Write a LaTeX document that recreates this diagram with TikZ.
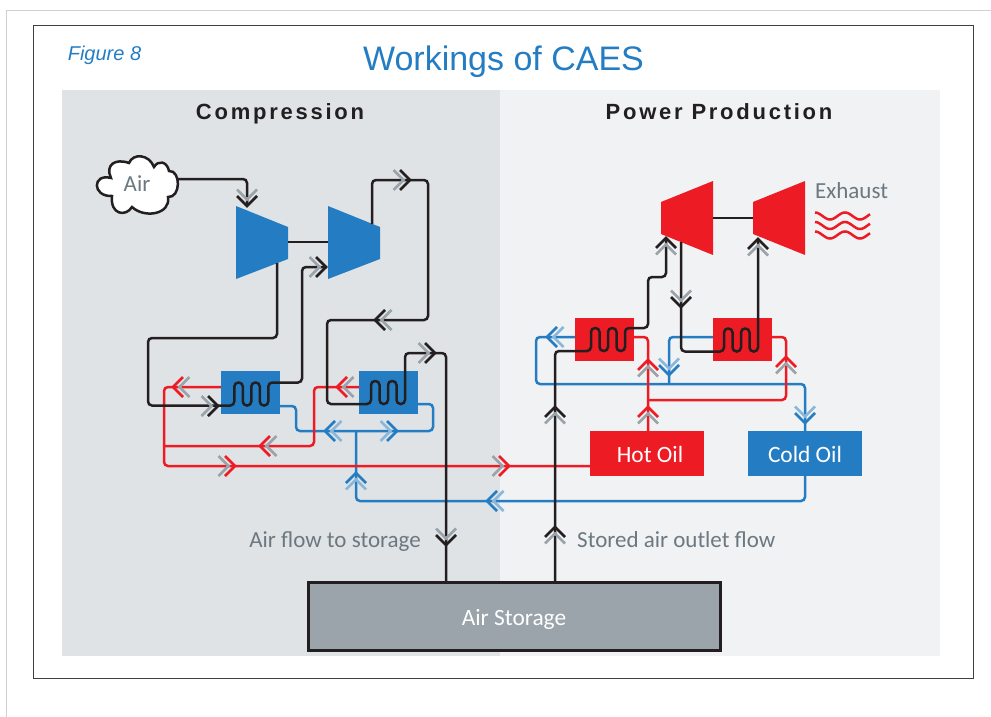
\documentclass[tikz,border=0pt]{standalone}
\usepackage{fontspec}
\usepackage{xcolor}
\usepackage{tikz}
\usetikzlibrary{calc}
\setmainfont{Liberation Sans}
\newfontfamily\labelfont{Carlito}
\newfontfamily\headfont[LetterSpace=12.5]{Liberation Sans}
\definecolor{caesblue}{RGB}{36, 125, 195}
\definecolor{caesred}{RGB}{237, 28, 36}
\definecolor{caesdark}{RGB}{35, 31, 32}
\definecolor{caesgrey}{RGB}{154, 164, 170}
\definecolor{caesslate}{RGB}{108, 120, 128}
\definecolor{paleblue}{RGB}{138, 183, 220}
\definecolor{panelleft}{RGB}{224, 227, 230}
\definecolor{panelright}{RGB}{241, 242, 244}
\tikzset{
  pipe/.style={line width=2.5pt,rounded corners=4pt},
  bluepipe/.style={pipe,draw=caesblue},
  redpipe/.style={pipe,draw=caesred},
  darkpipe/.style={pipe,draw=caesdark},
  hxbox/.style={minimum width=59pt,minimum height=43pt,inner sep=0pt},
  oilbox/.style={minimum width=114pt,minimum height=45pt,inner sep=0pt,text=white,
                 text height=18pt,text depth=0pt,
                 font=\labelfont\fontsize{23.4}{27}\selectfont},
  flowlabel/.style={text=caesslate,inner sep=0pt,font=\labelfont\fontsize{23}{27}\selectfont},
  panelhead/.style={text=caesdark,inner sep=0pt,anchor=base,font=\headfont\bfseries\fontsize{22}{26}\selectfont},
}
\newcommand{\coilrun}{-- ++(0,-23) -- ++(8.5,0) -- ++(0,23) -- ++(8.5,0) -- ++(0,-23) -- ++(8.5,0) -- ++(0,23) -- ++(8.5,0) -- ++(0,-23)}
\newcommand{\flowmark}[4]{%
  \begin{scope}[shift={(#1)},rotate=#2,line width=2.5pt]
    \draw[#4] (-16.5,-10) -- (-6.5,0) -- (-16.5,10);
    \draw[#3] (-10,-10) -- (0,0) -- (-10,10);
  \end{scope}}

\begin{document}
\begin{tikzpicture}[x=1pt,y=-1pt]
  \useasboundingbox (0,0) rectangle (991,717);
  \coordinate (pageA) at (991,11);
  \coordinate (pageB) at (6,11);
  \coordinate (pageC) at (6,717);
  \draw[black!18,line width=1pt] (pageA)--(pageB)--(pageC);
  \node[draw=black!75,line width=1pt,minimum width=940pt,minimum height=652pt,inner sep=0pt] (frame) at (503,352) {};
  \node[fill=panelleft,minimum width=438pt,minimum height=566pt,inner sep=0pt] (comp) at (281,373) {};
  \node[fill=panelright,minimum width=440pt,minimum height=566pt,inner sep=0pt] (power) at (720,373) {};

  \node[text=caesblue,inner sep=0pt,font=\itshape\fontsize{20}{24}\selectfont] (fig) at (104.5,55.5) {Figure 8};
  \node[text=caesblue,inner sep=0pt,font=\fontsize{34}{40}\selectfont] (title) at (503.5,62) {Workings of CAES};
  \node[panelhead] (comphead) at (280,119.5) {Compression};
  \node[panelhead] (powerhead) at (719,119.5) {Power Production};

  % machines
  \coordinate (cmpAshaft) at (288,242);
  \coordinate (cmpBshaft) at (328,242);
  \coordinate (cmpAout) at (277,263);
  \coordinate (cmpBin) at (327,267);
  \coordinate (cmpBout) at (372,224);
  \coordinate (trbAshaft) at (713,218);
  \coordinate (trbBshaft) at (753,218);
  \coordinate (trbAin) at (666,238);
  \coordinate (trbAout) at (681,242);
  \coordinate (trbBin) at (758,240);
  \fill[caesblue] (236,206)--(288,227)--(288,259)--(236,279)--cycle;
  \fill[caesblue] (328,206)--(380,227)--(380,259)--(328,279)--cycle;
  \fill[caesred] (661,202)--(713,181)--(713,255)--(661,234)--cycle;
  \fill[caesred] (753,202)--(805,181)--(805,255)--(753,234)--cycle;
  \draw[darkpipe] (cmpAshaft)--(cmpBshaft);
  \draw[darkpipe] (trbAshaft)--(trbBshaft);

  \node[hxbox,fill=caesblue] (hxa) at (250.5,392.5) {};
  \node[hxbox,fill=caesblue] (hxb) at (388.5,392.5) {};
  \node[hxbox,fill=caesred] (hxc) at (604.5,339.5) {};
  \node[hxbox,fill=caesred] (hxd) at (742.5,339.5) {};
  \node[oilbox,fill=caesred] (hot) at (647,453.5) {\hspace*{6pt}Hot Oil};
  \node[oilbox,fill=caesblue] (cold) at (805,453.5) {Cold Oil};
  \node[draw=caesdark,line width=3pt,fill=caesgrey,minimum width=412pt,minimum height=68pt,
        inner sep=0pt,text=white,text height=16.6pt,text depth=0pt,
        font=\labelfont\fontsize{23.4}{27}\selectfont] (store) at (514,616.7) {Air Storage};

  % air cloud
  \coordinate (airout) at (177,179);
  \draw[draw=caesdark,line width=2.5pt,fill=white]
    (111,178) .. controls (92,173) and (92,197) .. (112,196)
    .. controls (110,215) and (126,217) .. (132,207)
    .. controls (145,219) and (171,214) .. (168,197)
    .. controls (181,198) and (181,170) .. (169,171)
    .. controls (167,161) and (158,160) .. (154,167)
    .. controls (149,154) and (133,153) .. (129,163)
    .. controls (115,158) and (105,165) .. (111,178) -- cycle;
  \node[flowlabel] (air) at (137,184) {Air};

  % blue circuit
  \coordinate (bluejoin) at (356,431);
  \coordinate (bluejoinb) at (669,384);
  \draw[bluepipe] ([yshift=-13.5pt]hxa.east) -- (296,406) -- (296,431) -- (433,431) -- (433,404) -- ([yshift=-11.5pt]hxb.east);
  \draw[bluepipe] (cold.south) -- (805,501) -- (356,501) -- (bluejoin);
  \draw[bluepipe] ([yshift=2.5pt]hxc.west) -- (536,337) -- (536,384) -- (805,384) -- (cold.north);
  \draw[bluepipe] ([yshift=2.5pt]hxd.west) -- (669,337) -- (bluejoinb);

  % red circuit
  \coordinate (redjoin) at (164,446);
  \coordinate (redjoinb) at (648,400);
  \draw[redpipe] ([yshift=5.5pt]hxa.west) -- (164,387) -- (164,466) -- ([yshift=-12.5pt]hot.west);
  \draw[redpipe] ([yshift=5.5pt]hxb.west) -- (314,387) -- (314,446) -- (redjoin);
  \draw[redpipe] ([yshift=2.5pt]hxc.east) -- (648,337) -- (648,431.5);
  \draw[redpipe] ([yshift=2.5pt]hxd.east) -- (786,337) -- (786,400) -- (redjoinb);

  % air circuit
  \draw[darkpipe] (airout) -- (247,179) -- (247,205);
  \draw[darkpipe] (cmpAout) -- (277,338) -- (148,338) -- (148,405.5) -- (234.3,405.5) \coilrun -- (302,382.5) -- (302,267) -- (cmpBin);
  \draw[darkpipe] (cmpBout) -- (372,180) -- (428,180) -- (428,320) -- (327,320) -- (327,404) -- (371,404) \coilrun -- (405,353) -- (446,353) -- (446,583);
  \draw[darkpipe] (555,583) -- (555,351) -- (591,351) \coilrun -- (648,328) -- (648,277) -- (666,277) -- (trbAin);
  \draw[darkpipe] (trbAout) -- (681,351.5) -- (724,351.5) \coilrun -- (trbBin);

  % flow marks
  \foreach \xpos/\ypos/\ang in {247/206/270, 410/180/0, 326/267/0, 375/320/180, 435/353/0, 218/406/0, 446/545/270, 555/527/90, 555/407/90, 666/238/90, 758/239/90, 681/307/270}
    {\flowmark{\xpos,\ypos}{\ang}{caesdark}{caesgrey}}
  \foreach \xpos/\ypos/\ang in {173/387/180, 337/387/180, 260/446/180, 235/466/0, 509/466/0, 648/360/90, 648/407/90, 786/357/90}
    {\flowmark{\xpos,\ypos}{\ang}{caesred}{caesgrey}}
  \foreach \xpos/\ypos/\ang in {325/431/180, 397/431/0, 356/473/90, 487/501/180, 547/337/180, 669/375/270, 805/423/270}
    {\flowmark{\xpos,\ypos}{\ang}{caesblue}{paleblue}}

  \node[flowlabel,anchor=base east] (tostore) at (421,547) {Air flow to storage};
  \node[flowlabel,anchor=base west] (fromstore) at (577,547) {Stored air outlet flow};
  \node[flowlabel,anchor=west] (exhaust) at (815,191) {Exhaust};
  \foreach \ypos in {216,225.5,235}
    \draw[caesred,line width=2.5pt] plot[domain=0:55,samples=45,smooth] ({815+\x},{\ypos-3.5*cos(12*\x)});
\end{tikzpicture}
\end{document}
